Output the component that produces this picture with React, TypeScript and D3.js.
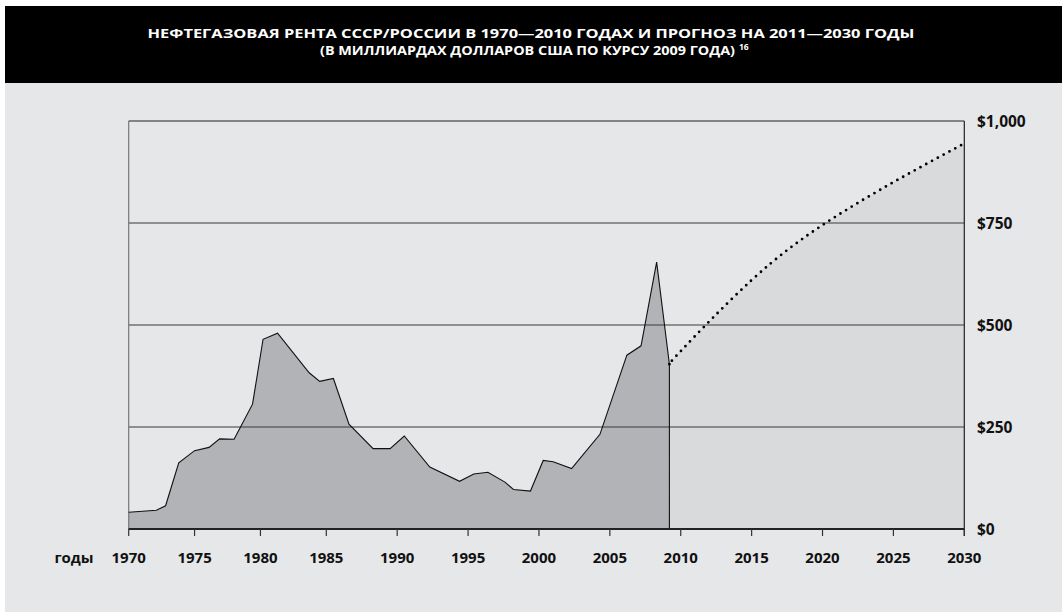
import React from 'react';
import * as d3 from 'd3';

// historical rent, vertices (year, $bn)
const histYears = [1970, 1972.1, 1972.8, 1973.8, 1975, 1976.1, 1976.9, 1978, 1979.4, 1980.2, 1981.3, 1983.7, 1984.5, 1985.5, 1986.6, 1988.3, 1989.5, 1990.5, 1992.3, 1994.4, 1995.4, 1996.4, 1997.6, 1998.2, 1999.4, 2000.3, 2001, 2002.3, 2004.3, 2006.2, 2007.2, 2008.3, 2009.2];
const histValues = [41, 46, 57, 162, 192, 200, 221, 220, 306, 465, 480, 383, 362, 369, 257, 197, 197, 228, 152, 117, 135, 139, 115, 97, 93, 168, 165, 148, 232, 426, 449, 654, 404];

// forecast
const forecastYears = [2009.2, 2010, 2015, 2020, 2025, 2030];
const forecastValues = [404, 436, 610, 745, 850, 945];

const xTickYears = [1970, 1975, 1980, 1985, 1990, 1995, 2000, 2005, 2010, 2015, 2020, 2025, 2030];
const yTickValues = [0, 250, 500, 750, 1000];
const yTickLabels = ['$0', '$250', '$500', '$750', '$1,000'];

const titleLine1 = 'НЕФТЕГАЗОВАЯ РЕНТА СССР/РОССИИ В 1970—2010 ГОДАХ И ПРОГНОЗ НА 2011—2030 ГОДЫ';
const titleLine2 = '(В МИЛЛИАРДАХ ДОЛЛАРОВ США ПО КУРСУ 2009 ГОДА)';
const footnote = '16';

const FONT = '"Open Sans", "DejaVu Sans Condensed", sans-serif';

export default function App() {
  const width = 1062;
  const height = 612;
  const plot = { left: 128.7, right: 964.3, top: 121, bottom: 529 };

  // the original axis is slightly uneven: 1970-1985 is narrower than later years
  const x = d3.scaleLinear().domain([1970, 1985, 2030]).range([plot.left, 326.3, plot.right]);
  const y = d3.scaleLinear().domain([0, 1000]).range([plot.bottom, plot.top]);

  const hist = histYears.map((yr, i) => ({ yr, v: histValues[i] }));
  const fc = forecastYears.map((yr, i) => ({ yr, v: forecastValues[i] }));

  const histArea = d3.area<{ yr: number; v: number }>()
    .x(d => x(d.yr)).y0(y(0)).y1(d => y(d.v))(hist) || '';
  const histLast = hist[hist.length - 1];
  const histLine = (d3.line<{ yr: number; v: number }>()
    .x(d => x(d.yr)).y(d => y(d.v))(hist) || '') + `L${x(histLast.yr)},${y(0)}`;

  const fcArea = d3.area<{ yr: number; v: number }>()
    .curve(d3.curveNatural)
    .x(d => x(d.yr)).y0(y(0)).y1(d => y(d.v))(fc) || '';
  const fcLine = d3.line<{ yr: number; v: number }>()
    .curve(d3.curveNatural)
    .x(d => x(d.yr)).y(d => y(d.v))(fc) || '';

  return (
    <div>
      <style>{'body{margin:0}'}</style>
      <svg width={width} height={height} style={{ display: 'block', background: '#fff' }} fontFamily={FONT}>
        {/* title bar */}
        <rect x={5} y={6} width={width - 5} height={77} fill="#000" />
        <text x={531} y={38} textAnchor="middle" fill="#fff" fontWeight="bold" fontSize={13}
          textLength={767} lengthAdjust="spacingAndGlyphs">{titleLine1}</text>
        <text x={320} y={55} fill="#fff" fontWeight="bold" fontSize={13}
          textLength={415} lengthAdjust="spacingAndGlyphs">{titleLine2}</text>
        <text x={739} y={50} fill="#fff" fontWeight="bold" fontSize={8.5}>{footnote}</text>

        {/* background */}
        <rect x={5} y={83} width={width - 5} height={height - 83} fill="#e6e7e8" />

        {/* areas */}
        <path d={fcArea} fill="#d9dadc" />
        <path d={histArea} fill="#b1b3b6" />

        {/* gridlines */}
        {yTickValues.slice(1, 4).map(v => (
          <line key={v} x1={plot.left} x2={plot.right} y1={y(v)} y2={y(v)} stroke="#3a3a3a" strokeWidth={1.2} />
        ))}

        {/* frame */}
        <line x1={plot.left} x2={plot.right} y1={plot.top} y2={plot.top} stroke="#222" strokeWidth={1.2} />
        <line x1={plot.left} x2={plot.left} y1={plot.top} y2={plot.bottom} stroke="#777" strokeWidth={1.2} />
        <line x1={plot.right} x2={plot.right} y1={plot.top} y2={plot.bottom + 7} stroke="#222" strokeWidth={1.2} />

        {/* series outlines */}
        <path d={histLine} fill="none" stroke="#111" strokeWidth={1.1} strokeLinejoin="miter" />
        <path d={fcLine} fill="none" stroke="#000" strokeWidth={2.8} strokeDasharray="0 6.6" strokeLinecap="round" />

        {/* x axis */}
        <line x1={plot.left} x2={plot.right} y1={plot.bottom} y2={plot.bottom} stroke="#222" strokeWidth={2} />
        {xTickYears.map(t => (
          <g key={t}>
            <line x1={x(t)} x2={x(t)} y1={plot.bottom} y2={plot.bottom + 7} stroke="#333" strokeWidth={1.2} />
            <text x={x(t)} y={563} textAnchor="middle" fontWeight="bold" fontSize={15} fill="#111">{t}</text>
          </g>
        ))}
        <text x={74} y={563} textAnchor="middle" fontWeight="bold" fontSize={15} fill="#111">годы</text>

        {/* y axis labels, right side */}
        {yTickValues.map((v, i) => (
          <text key={v} x={977} y={y(v) + 5.5} fontWeight="bold" fontSize={15.5} fill="#111">{yTickLabels[i]}</text>
        ))}
      </svg>
    </div>
  );
}
